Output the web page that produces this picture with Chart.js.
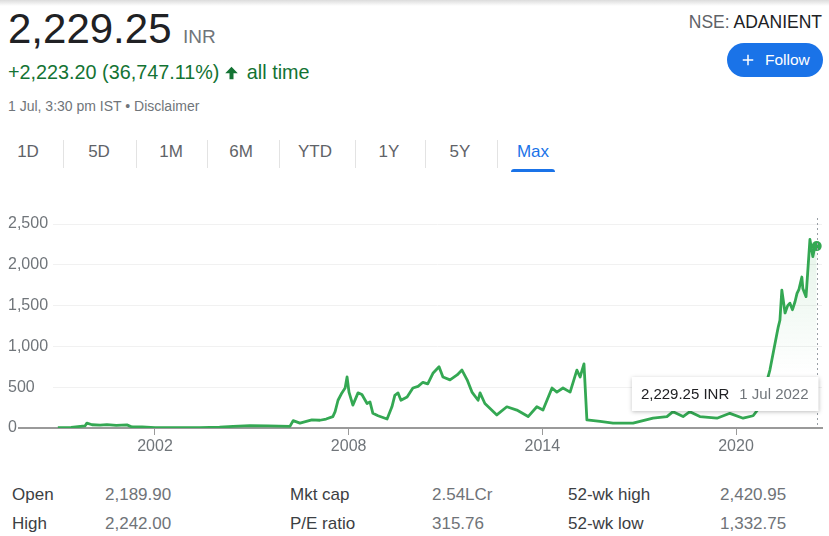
<!DOCTYPE html>
<html>
<head>
<meta charset="utf-8">
<script src="https://cdn.jsdelivr.net/npm/chart.js@4.4.1/dist/chart.umd.min.js"></script>
<style>
  html,body{margin:0;padding:0;background:#fff;}
  body{width:829px;height:536px;position:relative;overflow:hidden;font-family:"Liberation Sans",Arial,sans-serif;}
  .abs{position:absolute;white-space:nowrap;}
  .topshade{position:absolute;left:0;top:0;width:829px;height:6px;background:linear-gradient(#dcdcdc,#ffffff);}
  .price{left:8px;top:4px;font-size:42px;color:#202124;line-height:50px;}
  .cur{left:183px;top:25px;font-size:19px;color:#70757a;line-height:24px;}
  .chg{left:8px;top:60px;font-size:19.8px;color:#137333;line-height:24px;}
  .chg svg{vertical-align:-2px;margin:0 2px 0 5px;}
  .when{left:8px;top:97px;font-size:14px;color:#70757a;line-height:18px;}
  .ticker{right:7px;top:11px;font-size:17.5px;line-height:22px;color:#202124;}
  .ticker span{color:#5f6368;}
  .follow{left:727px;top:43px;width:96px;height:34px;border-radius:17px;background:#1a73e8;color:#fff;font-size:15.5px;line-height:34px;}
  .follow svg{position:absolute;left:12px;top:8px;}
  .follow .t{position:absolute;left:38px;top:0;}
  .tab{top:141px;font-size:17px;color:#5f6368;line-height:22px;transform:translateX(-50%);}
  .tab.sel{color:#1a73e8;}
  .sep{position:absolute;top:140px;width:1px;height:28px;background:#e3e3e3;}
  .uline{position:absolute;left:511px;top:169px;width:44px;height:3px;background:#1a73e8;border-radius:3px 3px 0 0;}
  #wrap{position:absolute;left:0;top:201px;width:829px;height:261px;}
  .cell{font-size:17px;line-height:22px;}
  .lab{color:#3c4043;}
  .val{color:#6f7378;}
</style>
</head>
<body>
<div class="topshade"></div>
<div class="abs price">2,229.25</div>
<div class="abs cur">INR</div>
<div class="abs chg">+2,223.20 (36,747.11%)<svg width="15" height="16" viewBox="0 0 24 24"><path fill="#137333" d="M12 2 L22 12.5 L15.2 12.5 L15.2 22 L8.8 22 L8.8 12.5 L2 12.5 Z"/></svg> all time</div>
<div class="abs when">1 Jul, 3:30 pm IST • Disclaimer</div>
<div class="abs ticker"><span>NSE:</span> ADANIENT</div>
<div class="abs follow"><svg width="18" height="18" viewBox="0 0 24 24"><path fill="#fff" d="M19 13h-6v6h-2v-6H5v-2h6V5h2v6h6v2z"/></svg><span class="t">Follow</span></div>
<div id="tabs"></div>
<div class="uline"></div>
<div id="wrap"><canvas id="c"></canvas></div>
<div id="stats"></div>

<script>
// ---- data ----
const tabLabels = ["1D","5D","1M","6M","YTD","1Y","5Y","Max"];
const selectedTab = "Max";

const years = [
  1998.99,1999.40,1999.83,1999.89,2000.05,2000.30,2000.51,2000.80,2001.13,2001.29,
  2001.60,2002.00,2002.70,2003.39,2004.00,2004.42,2004.94,2005.50,2006.18,2006.28,
  2006.49,2006.86,2007.11,2007.30,2007.51,2007.58,2007.67,2007.79,2007.89,2007.95,
  2008.01,2008.13,2008.29,2008.41,2008.57,2008.66,2008.75,2008.91,2009.19,2009.34,
  2009.43,2009.53,2009.62,2009.81,2009.99,2010.15,2010.30,2010.45,2010.61,2010.80,
  2010.92,2011.14,2011.36,2011.51,2011.67,2011.82,2012.01,2012.07,2012.22,2012.59,
  2012.90,2013.21,2013.56,2013.83,2014.02,2014.30,2014.45,2014.64,2014.86,2015.07,
  2015.17,2015.29,2015.38,2015.79,2016.19,2016.81,2017.43,2017.86,2018.05,2018.36,
  2018.57,2018.88,2019.41,2019.81,2020.22,2020.53,2020.74,2021.05,2021.27,2021.31,
  2021.36,2021.42,2021.52,2021.60,2021.67,2021.75,2021.83,2021.89,2021.95,2022.04,
  2022.07,2022.17,2022.22,2022.29,2022.38,2022.45,2022.50
];
const prices = [
  3,8,25,60,40,35,42,32,38,12,
  15,5,4,3,10,20,30,25,20,90,
  60,100,95,110,140,200,340,430,490,625,
  440,280,430,410,300,320,180,150,110,260,
  400,430,340,380,490,510,560,540,670,750,
  625,590,650,710,590,440,340,430,300,160,
  260,220,140,260,220,490,440,490,440,710,
  625,785,100,80,60,60,120,140,200,140,
  200,140,120,180,120,150,260,710,1160,1240,
  1320,1690,1410,1500,1530,1450,1550,1650,1700,1850,
  1710,1610,1900,2310,2100,2240,2229.25
];
const xTickYears = [2002, 2008, 2014, 2020];
const yTickValues = [0, 500, 1000, 1500, 2000, 2500];
const lastDateLabel = "1 Jul 2022";
const currency = "INR";

const statLabels = ["Open","High","Mkt cap","P/E ratio","52-wk high","52-wk low"];
const statValues = ["2,189.90","2,242.00","2.54LCr","315.76","2,420.95","1,332.75"];

// ---- header tabs ----
const tabCenters = [28, 99, 171, 241, 315, 389, 460, 533];
const sepXs = [63, 136, 207, 279, 355, 425, 497];
const tabsEl = document.getElementById('tabs');
tabLabels.forEach((t,i)=>{
  const d=document.createElement('div');
  d.className='abs tab'+(t===selectedTab?' sel':'');
  d.style.left=tabCenters[i]+'px';
  d.textContent=t;
  tabsEl.appendChild(d);
});
sepXs.forEach(x=>{
  const s=document.createElement('div');
  s.className='sep'; s.style.left=x+'px'; tabsEl.appendChild(s);
});

// ---- stats table ----
const statsEl=document.getElementById('stats');
const colLab=[12,290,568], colVal=[105,432,720], rowTop=[484,513];
statLabels.forEach((l,i)=>{
  const col=Math.floor(i/2), row=i%2;
  const a=document.createElement('div');
  a.className='abs cell lab'; a.style.left=colLab[col]+'px'; a.style.top=rowTop[row]+'px'; a.textContent=l;
  const b=document.createElement('div');
  b.className='abs cell val'; b.style.left=colVal[col]+'px'; b.style.top=rowTop[row]+'px'; b.textContent=statValues[i];
  statsEl.appendChild(a); statsEl.appendChild(b);
});

// ---- chart ----
Chart.defaults.font.family='"Liberation Sans", Arial, sans-serif';
const GREEN='#34a853';
const points = years.map((y,i)=>({x:y,y:prices[i]}));
const lastIdx = points.length-1;

const baselinePlugin = {
  id:'baseline',
  beforeDatasetsDraw(chart){
    const {ctx, chartArea, scales} = chart;
    const y0 = scales.y.getPixelForValue(0);
    ctx.save();
    ctx.strokeStyle='#9a9a9a';
    ctx.lineWidth=2;
    ctx.beginPath();
    ctx.moveTo(chartArea.left-35, y0);
    ctx.lineTo(chartArea.right+1, y0);
    ctx.stroke();
    ctx.restore();
  }
};

const hoverPlugin = {
  id:'hoverbox',
  afterDatasetsDraw(chart){
    const {ctx, chartArea} = chart;
    const pt = chart.getDatasetMeta(0).data[lastIdx];
    const px = Math.round(pt.x)+0.5;
    ctx.save();
    ctx.strokeStyle='#9aa0a6';
    ctx.lineWidth=1;
    ctx.setLineDash([2,3]);
    ctx.beginPath();
    ctx.moveTo(px, chartArea.top-6);
    ctx.lineTo(px, chartArea.bottom);
    ctx.stroke();
    ctx.setLineDash([]);
    const v = prices[lastIdx].toLocaleString('en-US',{minimumFractionDigits:2,maximumFractionDigits:2})+' '+currency;
    ctx.font='15px "Liberation Sans", Arial, sans-serif';
    const w1=ctx.measureText(v).width, w2=ctx.measureText(lastDateLabel).width;
    const bw = 9+w1+10+w2+10, bh=34;
    const right = px+1, left = right-bw;
    const top = chartArea.bottom-51;
    ctx.shadowColor='rgba(0,0,0,0.25)';
    ctx.shadowBlur=4;
    ctx.shadowOffsetY=1;
    ctx.fillStyle='#fff';
    ctx.fillRect(left, top, bw, bh);
    ctx.shadowColor='transparent';
    ctx.textBaseline='middle';
    ctx.fillStyle='#202124';
    ctx.fillText(v, left+9, top+bh/2+1);
    ctx.fillStyle='#70757a';
    ctx.fillText(lastDateLabel, left+9+w1+10, top+bh/2+1);
    ctx.restore();
  }
};

new Chart(document.getElementById('c'), {
  type:'line',
  data:{datasets:[{
    data:points,
    borderColor:GREEN,
    borderWidth:2.8,
    borderJoinStyle:'round',
    tension:0,
    pointRadius:(c)=>c.dataIndex===lastIdx?5:0,
    pointBackgroundColor:GREEN,
    pointBorderWidth:0,
    fill:'origin',
    backgroundColor:(c)=>{
      const ca=c.chart.chartArea;
      if(!ca) return 'rgba(0,0,0,0)';
      const g=c.chart.ctx.createLinearGradient(0,ca.top,0,ca.top+150);
      g.addColorStop(0,'rgba(52,168,83,0.14)');
      g.addColorStop(1,'rgba(52,168,83,0)');
      return g;
    }
  }]},
  options:{
    responsive:true,
    maintainAspectRatio:false,
    animation:false,
    events:[],
    layout:{padding:{left:8,right:7,top:23,bottom:0}},
    plugins:{legend:{display:false},tooltip:{enabled:false}},
    scales:{
      x:{
        type:'linear',
        min:1998.84, max:2022.664,
        afterBuildTicks:(s)=>{s.ticks=xTickYears.map(v=>({value:v}));},
        afterFit:(s)=>{s.height=34;},
        grid:{drawOnChartArea:false,drawTicks:true,tickLength:7,color:'#9a9a9a',lineWidth:1},
        border:{display:false},
        ticks:{padding:2,color:'#70757a',font:{size:16},maxRotation:0,autoSkip:false,callback:(v)=>String(v)}
      },
      y:{
        min:0,max:2500,
        afterBuildTicks:(s)=>{s.ticks=yTickValues.map(v=>({value:v}));},
        afterFit:(s)=>{s.width=45;},
        grid:{drawTicks:false,color:(c)=>c.tick&&c.tick.value===0?'rgba(0,0,0,0)':'#f1f1f1',lineWidth:1},
        border:{display:false},
        ticks:{crossAlign:'far',padding:0,color:'#70757a',font:{size:16},callback:(v)=>v.toLocaleString('en-US')}
      }
    }
  },
  plugins:[baselinePlugin,hoverPlugin]
});
</script>
</body>
</html>
